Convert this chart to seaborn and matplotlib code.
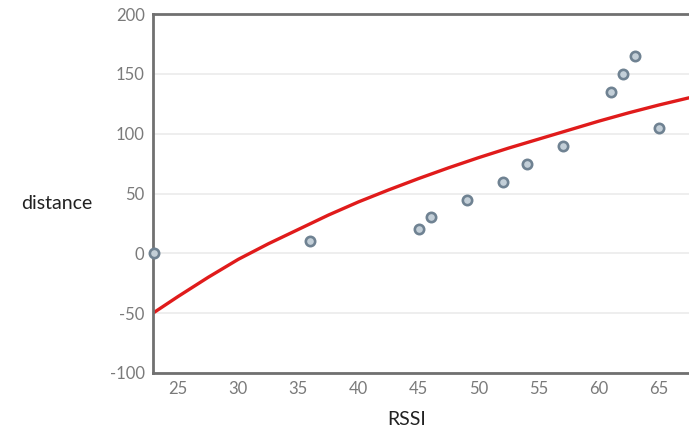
import matplotlib
matplotlib.use('Agg')
import pandas as pd
import matplotlib.pyplot as plt
import seaborn as sns

# Measured points (RSSI vs distance)
rssi = [23, 36, 45, 46, 49, 52, 54, 57, 61, 62, 63, 65]
distance = [0, 10, 20, 30, 45, 60, 75, 90, 135, 150, 165, 105]

# Trend curve
curve_rssi = [22.9, 25, 27.5, 30, 32.5, 35, 37.5, 40, 42.5, 45, 47.5, 50,
              52.5, 55, 57.5, 60, 62.5, 65, 67.5]
curve_distance = [-50, -36, -20, -5, 8, 20, 32, 43, 53, 62.5, 71.5, 80,
                  88, 95.5, 103, 110.5, 117.5, 124, 130]

y_ticks = [-100, -50, 0, 50, 100, 150, 200]
x_ticks = [25, 30, 35, 40, 45, 50, 55, 60, 65]

points = pd.DataFrame({'RSSI': rssi, 'distance': distance})
curve = pd.DataFrame({'RSSI': curve_rssi, 'distance': curve_distance})

sns.set_style('white')
plt.rcParams['font.family'] = ['Lato', 'DejaVu Sans']
plt.rcParams['axes.unicode_minus'] = False

fig = plt.figure(figsize=(6.89, 4.34), dpi=100)
ax = fig.add_axes([0.222, 0.1406, 0.778, 0.827])

ax.grid(axis='y', color='#ebebeb', linewidth=1.2)
ax.set_axisbelow(True)

sns.lineplot(data=curve, x='RSSI', y='distance', ax=ax, color='#e01b1b',
             linewidth=2.4, zorder=2)
sns.scatterplot(data=points, x='RSSI', y='distance', ax=ax, s=45,
                color='#c3cfd8', edgecolor='#6f8292', linewidth=1.9,
                zorder=3, clip_on=False)

ax.set_xlim(22.9, 67.5)
ax.set_ylim(-100, 200)
ax.set_xticks(x_ticks)
ax.set_yticks(y_ticks)
ax.tick_params(length=0, labelsize=12, labelcolor='#7a7a7a', pad=6)

for side in ['left', 'bottom', 'top']:
    ax.spines[side].set_color('#707070')
    ax.spines[side].set_linewidth(2)
ax.spines['right'].set_visible(False)

ax.set_xlabel('')
ax.set_ylabel('')
fig.text(0.083, 0.532, 'distance', fontsize=14, color='#222222',
         ha='center', va='center')
fig.text(0.59, 0.033, 'RSSI', fontsize=14, color='#222222',
         ha='center', va='center')

fig.savefig('out.png', dpi=100)
